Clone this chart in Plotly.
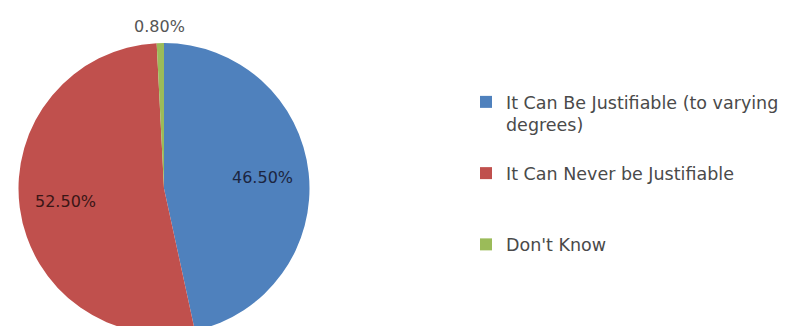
import math
import plotly.graph_objects as go

categories = [
    "It Can Be Justifiable (to varying<br>degrees)",
    "It Can Never be Justifiable",
    "Don't Know",
]
values = [46.5, 52.5, 0.8]
colors = ["#4F81BD", "#C0504D", "#9BBB59"]
label_colors = ["#1c2540", "#3a1616", "#555555"]
label_inside = [True, True, False]

W, H = 795, 326
# pie box (pixels) -> paper domain
px_x0, px_x1 = 9.5, 302.5
px_top = 35.0
dom_x = [px_x0 / W, px_x1 / W]
dom_y = [0.0, 1 - px_top / H]

# pad legend entries so the three items are evenly spaced like the original
legend_labels = [
    categories[0] + "<br>&nbsp;",
    categories[1] + "<br>&nbsp;<br>&nbsp;",
    categories[2],
]

fig = go.Figure(
    go.Pie(
        labels=legend_labels,
        values=values,
        sort=False,
        direction="clockwise",
        rotation=0,
        marker=dict(colors=colors, line=dict(width=0)),
        textinfo="none",
        hoverinfo="label+value",
        domain=dict(x=dom_x, y=dom_y),
    )
)

# data labels placed along each slice's mid-angle (Excel style)
box_w = px_x1 - px_x0
box_h = H - px_top
r = min(box_w, box_h) / 2
cx = (px_x0 + px_x1) / 2
cy = px_top + box_h / 2
total = sum(values)
cum = 0.0
for v, col, inside in zip(values, label_colors, label_inside):
    mid = (cum + v / 2) / total * 2 * math.pi
    cum += v
    rr = 0.68 * r if inside else r + 17
    x = cx + rr * math.sin(mid)
    y = cy - rr * math.cos(mid)
    fig.add_annotation(
        x=x / W,
        y=1 - y / H,
        xref="paper",
        yref="paper",
        text=f"{v:.2f}%",
        showarrow=False,
        xanchor="center",
        yanchor="middle",
        font=dict(family="DejaVu Sans", size=16, color=col),
    )

fig.update_layout(
    width=W,
    height=H,
    margin=dict(l=0, r=0, t=0, b=0),
    paper_bgcolor="white",
    plot_bgcolor="white",
    showlegend=True,
    legend=dict(
        x=458 / W,
        y=1 - 76 / H,
        xanchor="left",
        yanchor="top",
        valign="top",
        font=dict(family="DejaVu Sans", size=17.5, color="#4a4a4a"),
        itemwidth=30,
        traceorder="normal",
    ),
)

fig.write_html("out.html")
